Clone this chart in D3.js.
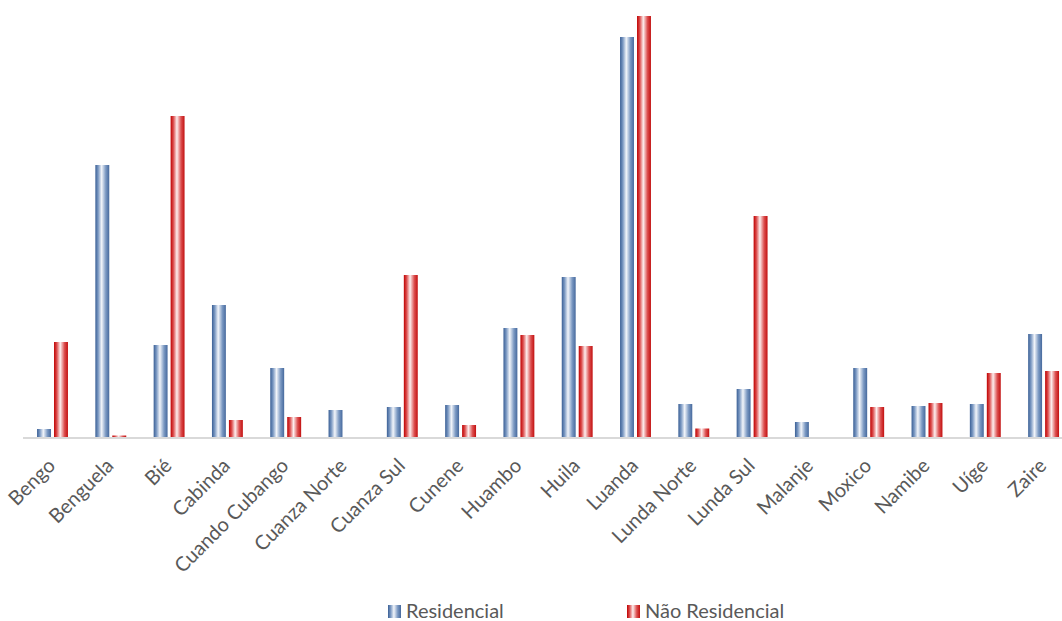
<!DOCTYPE html>
<html>
<head>
<meta charset="utf-8">
<script src="https://cdn.jsdelivr.net/npm/d3@7"></script>
<style>
  html, body { margin: 0; padding: 0; background: #fff; }
  svg { display: block; }
  text { font-family: Lato, "Open Sans", sans-serif; fill: #595959; }
</style>
</head>
<body>
<svg id="chart" width="1062" height="621"></svg>
<script>
const categories = ["Bengo","Benguela","Bié","Cabinda","Cuando Cubango","Cuanza Norte","Cuanza Sul","Cunene","Huambo","Huila","Luanda","Lunda Norte","Lunda Sul","Malanje","Moxico","Namibe","Uíge","Zaire"];
const seriesNames = ["Residencial","Não Residencial"];
const residencial = [8, 272, 92, 132, 69, 27, 30, 32, 109, 160, 400, 33, 48, 15, 69, 31, 33, 103];
const naoResidencial = [95, 1.5, 321, 17, 20, 0, 162, 12, 102, 91, 421, 8.5, 221, 0, 30, 34, 64, 66];

const W = 1062, H = 621;
const svg = d3.select("#chart");

const defs = svg.append("defs");
function grad(id, dark, mid, light, right) {
  const g = defs.append("linearGradient").attr("id", id)
    .attr("x1", "0%").attr("x2", "100%").attr("y1", "0%").attr("y2", "0%");
  g.append("stop").attr("offset", "0%").attr("stop-color", dark);
  g.append("stop").attr("offset", "20%").attr("stop-color", mid);
  g.append("stop").attr("offset", "45%").attr("stop-color", light);
  g.append("stop").attr("offset", "75%").attr("stop-color", mid);
  g.append("stop").attr("offset", "100%").attr("stop-color", right);
}
grad("gBlue", "#3a5f95", "#7a98c2", "#f2f5fa", "#46699d");
grad("gRed", "#bf0000", "#dc4f4f", "#fdeeee", "#c20f0f");
const fills = ["url(#gBlue)", "url(#gRed)"];

const x0 = d3.scaleBand().domain(categories).range([23.35, 1072.75])
  .paddingInner(0.47).paddingOuter(0.235);
const x1 = d3.scaleBand().domain(seriesNames).range([0, x0.bandwidth()]).paddingInner(0.18);
const y = d3.scaleLinear().domain([0, 421]).range([437, 16]);

const data = categories.map((c, i) => ({cat: c, vals: [residencial[i], naoResidencial[i]]}));

const groups = svg.append("g").selectAll("g").data(data).join("g")
  .attr("transform", d => `translate(${x0(d.cat)},0)`);
groups.selectAll("rect").data(d => d.vals.map((v, j) => ({v, j})))
  .join("rect")
  .attr("x", d => x1(seriesNames[d.j]))
  .attr("width", x1.bandwidth())
  .attr("y", d => y(d.v))
  .attr("height", d => y(0) - y(d.v))
  .attr("fill", d => fills[d.j]);

// baseline axis
const xAxis = d3.axisBottom(x0).tickSize(0).tickFormat("");
const axG = svg.append("g").attr("transform", `translate(0,${y(0)})`).call(xAxis);
axG.select(".domain").attr("stroke", "#d9d9d9").attr("stroke-width", 2)
  .attr("d", `M23,1H1062`);

// category labels
svg.append("g").selectAll("text").data(categories).join("text")
  .attr("transform", d => `translate(${x0(d) + x0.bandwidth()/2 + 4},467) rotate(-45)`)
  .attr("text-anchor", "end")
  .style("font-size", "20px")
  .text(d => d);

// legend
const legend = [{name: seriesNames[0], x: 388, fill: fills[0]}, {name: seriesNames[1], x: 627, fill: fills[1]}];
const lg = svg.append("g").selectAll("g").data(legend).join("g")
  .attr("transform", d => `translate(${d.x},605)`);
lg.append("rect").attr("width", 13).attr("height", 13).attr("fill", d => d.fill);
lg.append("text").attr("x", 18).attr("y", 12.5).style("font-size", "20px").text(d => d.name);
</script>
</body>
</html>
